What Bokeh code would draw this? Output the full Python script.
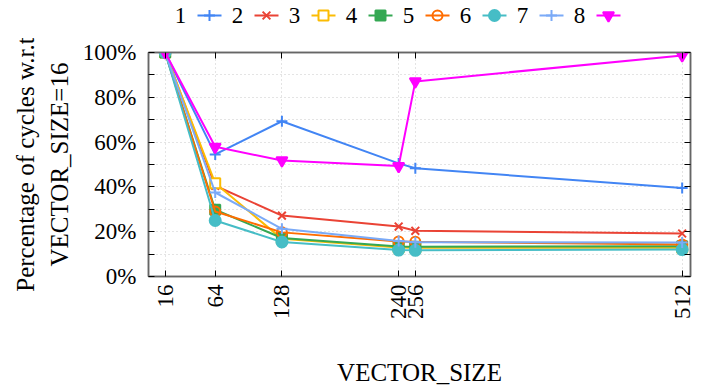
import math
from bokeh.plotting import figure
from bokeh.models import Range1d, FixedTicker, LinearAxis, CustomJSTickFormatter
from bokeh.layouts import column
from bokeh.core.properties import value
from bokeh.embed import file_html
from bokeh.resources import INLINE

# ---- data ----
vector_size = [16, 64, 128, 240, 256, 512]
series_names = ["1", "2", "3", "4", "5", "6", "7", "8"]
s1 = [100, 54.5, 69.3, 50.5, 48.3, 39.5]
s2 = [100, 40.5, 27.2, 22.3, 20.4, 19.2]
s3 = [100, 41.6, 16.8, 12.9, 12.8, 12.8]
s4 = [100, 29.8, 17.2, 13.4, 13.3, 13.5]
s5 = [100, 29.0, 19.7, 15.6, 15.5, 14.3]
s6 = [100, 25.0, 15.4, 11.8, 11.7, 12.0]
s7 = [100, 37.5, 21.3, 15.8, 15.3, 15.2]
s8 = [100, 57.9, 51.8, 49.3, 87.1, 98.7]
series = [s1, s2, s3, s4, s5, s6, s7, s8]
y_ticks = [0, 20, 40, 60, 80, 100]
y_minor = [10, 30, 50, 70, 90]
y_label_1 = "Percentage of cycles w.r.t"
y_label_2 = "VECTOR_SIZE=16"
x_label = "VECTOR_SIZE"

colors = ["#4285F4", "#EA4335", "#FBBC04", "#34A853", "#FF6D01", "#46BDC6", "#7BAAF7", "#FF00FF"]
markers = ["cross", "x", "square", "square", "circle", "circle", "cross", "inverted_triangle"]
fills = [None, None, "white", "#34A853", None, "#46BDC6", None, "#FF00FF"]
msizes = [11, 11, 10, 10, 10, 11, 11, 11]

FONT = "Liberation Serif"
FS = "23px"
LFS = "25px"
W = 708
BL, BR = 148, 18

# ---- legend figure ----
leg = figure(width=W, height=38, x_range=Range1d(148, 690), y_range=Range1d(38, 0),
             output_backend="svg", toolbar_location=None,
             min_border_left=BL, min_border_right=BR, min_border_top=0, min_border_bottom=0)
leg.axis.visible = False
leg.grid.visible = False
leg.outline_line_color = None
step = 57
for i, name in enumerate(series_names):
    tx = 180 + step * i
    cx = 209 + step * i
    leg.text(x=[tx], y=[15], text=[name], text_align="center", text_baseline="middle",
             text_font=value(FONT), text_font_size=FS, text_color="black")
    leg.segment(x0=[cx - 12], y0=[15], x1=[cx + 12], y1=[15], line_color=colors[i], line_width=2)
    leg.scatter(x=[cx], y=[15], marker=markers[i], size=msizes[i], line_color=colors[i],
                fill_color=fills[i], line_width=2)

# ---- main figure ----
p = figure(width=W, height=351, x_range=Range1d(0, 520), y_range=Range1d(0, 100),
           output_backend="svg", toolbar_location=None,
           min_border_left=BL, min_border_right=BR, min_border_top=14, min_border_bottom=112)
p.outline_line_color = "#666666"
p.outline_line_width = 1.5

pct = CustomJSTickFormatter(code="return tick + '%';")
blank = CustomJSTickFormatter(code="return '';")

p.xaxis.ticker = FixedTicker(ticks=vector_size)
p.yaxis.ticker = FixedTicker(ticks=y_ticks, minor_ticks=y_minor)
p.yaxis.formatter = pct
p.xaxis.major_label_orientation = math.pi / 2

for ax in [p.xaxis[0], p.yaxis[0]]:
    ax.major_label_text_font = FONT
    ax.major_label_text_font_size = FS
    ax.axis_label_text_font = FONT
    ax.axis_label_text_font_size = LFS
    ax.axis_label_text_font_style = "normal"
    ax.major_tick_in = 6
    ax.major_tick_out = 0
    ax.minor_tick_in = 6
    ax.minor_tick_out = 0
    ax.axis_line_color = "#666666"
    ax.axis_line_width = 1.5
    ax.major_tick_line_color = "black"
    ax.minor_tick_line_color = "black"
    ax.major_label_text_color = "black"
    ax.axis_label_text_color = "black"

p.xaxis.axis_label = x_label
p.xaxis.axis_label_standoff = 37
p.xaxis.major_label_standoff = 8
p.yaxis.axis_label = y_label_2
p.yaxis.axis_label_standoff = 7
p.yaxis.major_label_standoff = 12

# outer y label line as a tickless extra axis
outer = LinearAxis(ticker=FixedTicker(ticks=[]), axis_label=y_label_1,
                   axis_label_text_font=FONT, axis_label_text_font_size=LFS,
                   axis_label_text_font_style="normal", axis_label_text_color="black",
                   axis_line_color=None, major_tick_line_color=None, minor_tick_line_color=None,
                   axis_label_standoff=4, major_label_standoff=0)
p.add_layout(outer, "left")

# mirrored tick-only axes
top = LinearAxis(ticker=FixedTicker(ticks=vector_size), formatter=blank,
                 major_tick_in=6, major_tick_out=0, minor_tick_line_color=None,
                 axis_line_color="#666666", axis_line_width=1.5, major_label_standoff=0)
right = LinearAxis(ticker=FixedTicker(ticks=y_ticks, minor_ticks=y_minor), formatter=blank,
                   major_tick_in=6, major_tick_out=0, minor_tick_in=6, minor_tick_out=0,
                   axis_line_color="#666666", axis_line_width=1.5, major_label_standoff=0)
p.add_layout(top, "above")
p.add_layout(right, "right")

p.xgrid.ticker = FixedTicker(ticks=vector_size)
for g in [p.xgrid[0], p.ygrid[0]]:
    g.grid_line_color = "#c8c8c8"
    g.grid_line_dash = "1 3"
    g.grid_line_width = 1
p.ygrid.minor_grid_line_color = "#c8c8c8"
p.ygrid.minor_grid_line_dash = "1 3"

for i, s in enumerate(series):
    p.line(vector_size, s, line_color=colors[i], line_width=2)
    p.scatter(vector_size, s, marker=markers[i], size=msizes[i], line_color=colors[i],
              fill_color=fills[i], line_width=2)

layout = column(leg, p, spacing=0)
open("out.html", "w").write(file_html(layout, INLINE))
